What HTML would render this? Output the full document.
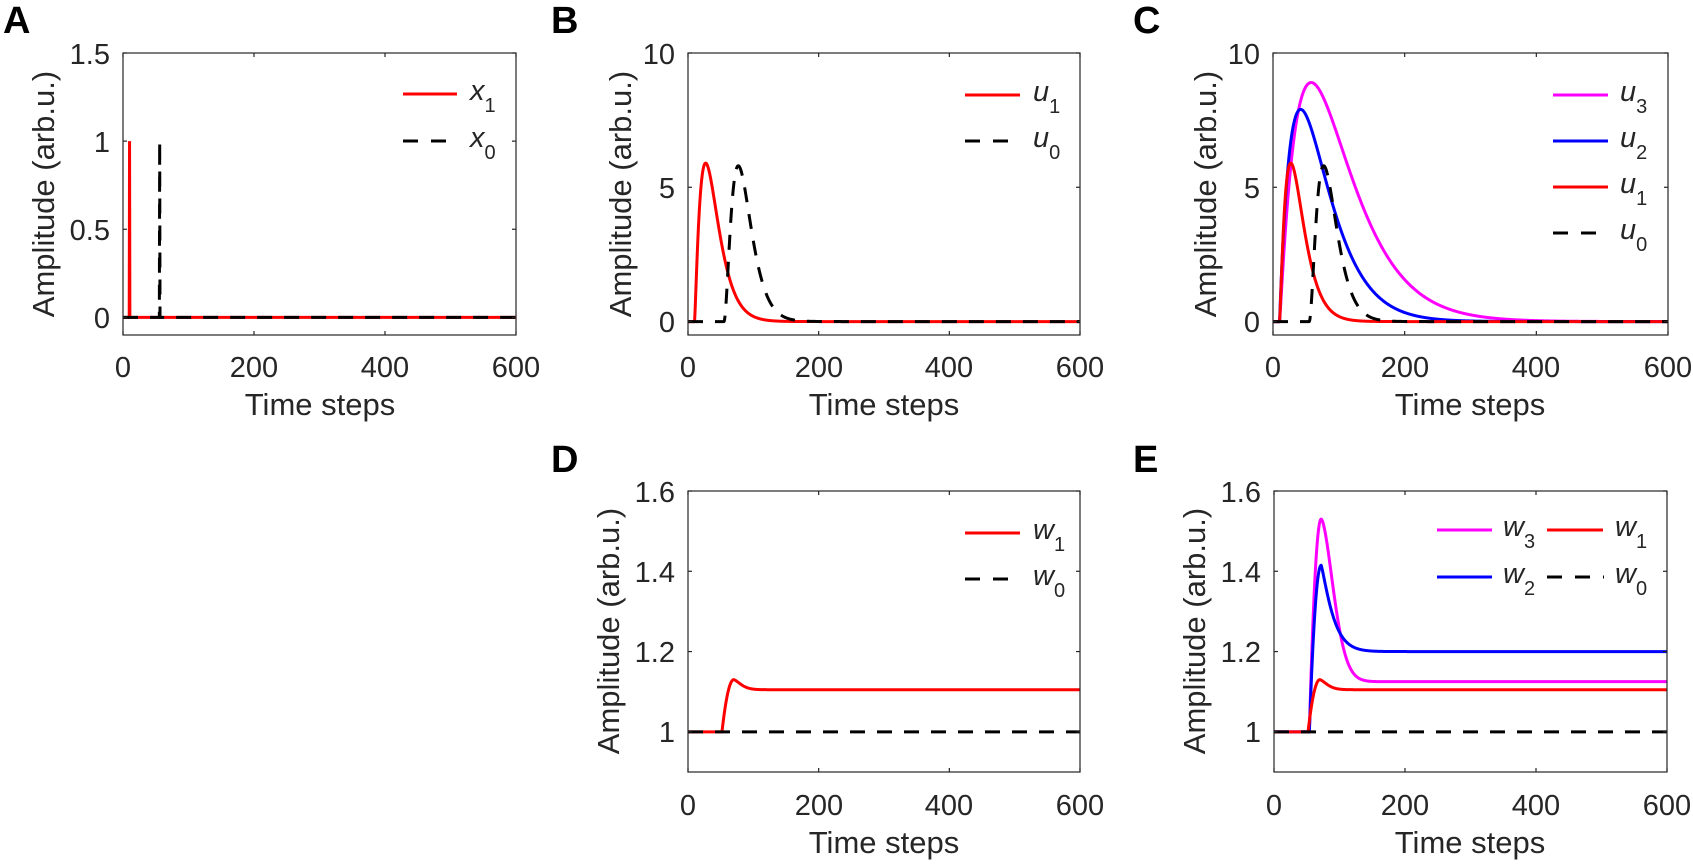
<!DOCTYPE html>
<html><head><meta charset="utf-8">
<style>
html,body{margin:0;padding:0;background:#fff;}
svg{display:block;}
text{font-family:"Liberation Sans",Arial,sans-serif;fill:#262626;}
.tk{font-size:29px;}
.lb{font-size:31px;}
.pl{font-size:38px;font-weight:bold;fill:#000;}
.lg{font-size:29px;font-style:italic;}
.sb{font-size:20px;font-style:normal;}
</style></head><body>
<svg id="s" width="1693" height="864" viewBox="0 0 1693 864" xmlns="http://www.w3.org/2000/svg">
<g id="plots"></g>
<!-- panel letters -->
<text class="pl" x="3" y="33">A</text>
<text class="pl" x="551" y="33">B</text>
<text class="pl" x="1133" y="33">C</text>
<text class="pl" x="551" y="472">D</text>
<text class="pl" x="1133" y="472">E</text>

<!-- A ticks -->
<g class="tk" text-anchor="end">
<text x="110" y="328">0</text><text x="110" y="240">0.5</text><text x="110" y="152">1</text><text x="110" y="64">1.5</text>
<text x="675" y="332">0</text><text x="675" y="198">5</text><text x="675" y="64">10</text>
<text x="1260" y="332">0</text><text x="1260" y="198">5</text><text x="1260" y="64">10</text>
<text x="675" y="742">1</text><text x="675" y="662">1.2</text><text x="675" y="582">1.4</text><text x="675" y="502">1.6</text>
<text x="1261" y="742">1</text><text x="1261" y="662">1.2</text><text x="1261" y="582">1.4</text><text x="1261" y="502">1.6</text>
</g>
<g class="tk" text-anchor="middle">
<text x="123" y="377">0</text><text x="254" y="377">200</text><text x="385" y="377">400</text><text x="516" y="377">600</text>
<text x="688" y="377">0</text><text x="819" y="377">200</text><text x="949" y="377">400</text><text x="1080" y="377">600</text>
<text x="1273" y="377">0</text><text x="1405" y="377">200</text><text x="1536" y="377">400</text><text x="1668" y="377">600</text>
<text x="688" y="815">0</text><text x="819" y="815">200</text><text x="949" y="815">400</text><text x="1080" y="815">600</text>
<text x="1274" y="815">0</text><text x="1405" y="815">200</text><text x="1536" y="815">400</text><text x="1667" y="815">600</text>
</g>
<g class="lb" text-anchor="middle">
<text x="320" y="415">Time steps</text>
<text x="884" y="415">Time steps</text>
<text x="1470" y="415">Time steps</text>
<text x="884" y="853">Time steps</text>
<text x="1470" y="853">Time steps</text>
<text transform="translate(54,194) rotate(-90)">Amplitude (arb.u.)</text>
<text transform="translate(631,194) rotate(-90)">Amplitude (arb.u.)</text>
<text transform="translate(1216,194) rotate(-90)">Amplitude (arb.u.)</text>
<text transform="translate(619,631) rotate(-90)">Amplitude (arb.u.)</text>
<text transform="translate(1205,631) rotate(-90)">Amplitude (arb.u.)</text>
</g>
<!-- legends -->
<g id="leg"></g>
<g class="lg">
<text x="470" y="100">x<tspan class="sb" dy="12">1</tspan></text>
<text x="470" y="147">x<tspan class="sb" dy="12">0</tspan></text>
<text x="1033" y="101">u<tspan class="sb" dy="12">1</tspan></text>
<text x="1033" y="147">u<tspan class="sb" dy="12">0</tspan></text>
<text x="1620" y="101">u<tspan class="sb" dy="12">3</tspan></text>
<text x="1620" y="147">u<tspan class="sb" dy="12">2</tspan></text>
<text x="1620" y="193">u<tspan class="sb" dy="12">1</tspan></text>
<text x="1620" y="239">u<tspan class="sb" dy="12">0</tspan></text>
<text x="1033" y="539">w<tspan class="sb" dy="12">1</tspan></text>
<text x="1033" y="585">w<tspan class="sb" dy="12">0</tspan></text>
<text x="1503" y="536">w<tspan class="sb" dy="12">3</tspan></text>
<text x="1503" y="583">w<tspan class="sb" dy="12">2</tspan></text>
<text x="1615" y="536">w<tspan class="sb" dy="12">1</tspan></text>
<text x="1615" y="583">w<tspan class="sb" dy="12">0</tspan></text>
</g>
</svg>
<script>
(function(){
var NS="http://www.w3.org/2000/svg";
var g=document.getElementById('plots'), lg=document.getElementById('leg');
function el(parent,tag,attrs){var e=document.createElementNS(NS,tag);for(var k in attrs)e.setAttribute(k,attrs[k]);parent.appendChild(e);return e;}
var P={
A:{x0:123,y0:53,w:393,h:282,ymin:-0.1,ymax:1.5,yt:[0,0.5,1,1.5]},
B:{x0:688,y0:53,w:392,h:282,ymin:-0.5,ymax:10,yt:[0,5,10]},
C:{x0:1273,y0:53,w:395,h:282,ymin:-0.5,ymax:10,yt:[0,5,10]},
D:{x0:688,y0:491,w:392,h:281,ymin:0.9,ymax:1.6,yt:[1,1.2,1.4,1.6]},
E:{x0:1274,y0:491,w:393,h:281,ymin:0.9,ymax:1.6,yt:[1,1.2,1.4,1.6]}
};
function X(p,t){return p.x0+p.w*t/600;}
function Y(p,v){return p.y0+p.h*(p.ymax-v)/(p.ymax-p.ymin);}
function curve(p,f,col,dash){
  var d="";for(var t=0;t<=600;t+=0.5){d+=(t==0?"M":"L")+X(p,t).toFixed(2)+" "+Y(p,f(t)).toFixed(2);}
  var a={d:d,fill:"none",stroke:col,"stroke-width":3,"stroke-linejoin":"round"};
  if(dash)a["stroke-dasharray"]="15 12";
  el(g,"path",a);
}
function pts(p,arr,col,dash){
  var d="";arr.forEach(function(q,i){d+=(i?"L":"M")+X(p,q[0]).toFixed(2)+" "+Y(p,q[1]).toFixed(2);});
  var a={d:d,fill:"none",stroke:col,"stroke-width":3};
  if(dash)a["stroke-dasharray"]="15 12";
  el(g,"path",a);
}
function gam(s,p,k){if(s<=0)return 0;return Math.pow((s/p)*Math.exp(1-s/p),k);}
function W(t,pk,Pl,tau,q){var s=t-54;if(s<=0)return 1;if(s<18)return 1+(pk-1)*(1-Math.pow(1-s/18,2));return Pl+(pk-Pl)*Math.exp(-Math.pow((s-18)/tau,q));}
var u1=function(t){return 5.9*gam(t-10,17,1.3);};
var u0=function(t){return 5.8*gam(t-55,22,2.0);};
var u2=function(t){return 7.9*gam(t-10,32,1.0);};
var u3=function(t){return 8.9*gam(t-10,48,1.1);};
var w1=function(t){return W(t+2,1.13,1.105,15,1.5);};
var w2=function(t){return W(t,1.415,1.2,20,1.2);};
var w3=function(t){return W(t,1.53,1.125,26,1.7);};
var R="#ff0000",Bl="#0000ff",M="#ff00ff",K="#000000";
// A
pts(P.A,[[0,0],[9.5,0],[10,1],[10.5,0],[600,0]],R);
pts(P.A,[[0,0],[55.5,0],[56,1],[56.5,0],[600,0]],K,true);
// B
curve(P.B,u1,R);curve(P.B,u0,K,true);
// C
curve(P.C,u3,M);curve(P.C,u2,Bl);curve(P.C,u1,R);curve(P.C,u0,K,true);
// D
curve(P.D,w1,R);curve(P.D,function(){return 1;},K,true);
// E
curve(P.E,w3,M);curve(P.E,w2,Bl);curve(P.E,w1,R);curve(P.E,function(){return 1;},K,true);
// axes boxes and ticks
for(var k in P){var p=P[k];
  el(g,"rect",{x:p.x0,y:p.y0,width:p.w,height:p.h,fill:"none",stroke:"#262626","stroke-width":1.2});
  [0,200,400,600].forEach(function(t){var x=X(p,t);
    el(g,"line",{x1:x,y1:p.y0+p.h,x2:x,y2:p.y0+p.h-4,stroke:"#262626","stroke-width":1.2});
    el(g,"line",{x1:x,y1:p.y0,x2:x,y2:p.y0+4,stroke:"#262626","stroke-width":1.2});});
  p.yt.forEach(function(v){var y=Y(p,v);
    el(g,"line",{x1:p.x0,y1:y,x2:p.x0+4,y2:y,stroke:"#262626","stroke-width":1.2});
    el(g,"line",{x1:p.x0+p.w,y1:y,x2:p.x0+p.w-4,y2:y,stroke:"#262626","stroke-width":1.2});});
}
// legend lines
function L(x1,x2,y,col,dash){var a={x1:x1,x2:x2,y1:y,y2:y,stroke:col,"stroke-width":3};if(dash)a["stroke-dasharray"]="15 13";el(lg,"line",a);}
L(403,457,94,R);L(403,458,141,K,true);
L(965,1020,95,R);L(965,1021,141,K,true);
L(1553,1608,95,M);L(1553,1608,141,Bl);L(1553,1608,187,R);L(1553,1609,233,K,true);
L(965,1020,533,R);L(965,1021,579,K,true);
L(1437,1492,530,M);L(1437,1492,577,Bl);L(1547,1603,530,R);L(1547,1604,577,K,true);
})();
</script>
</body></html>
